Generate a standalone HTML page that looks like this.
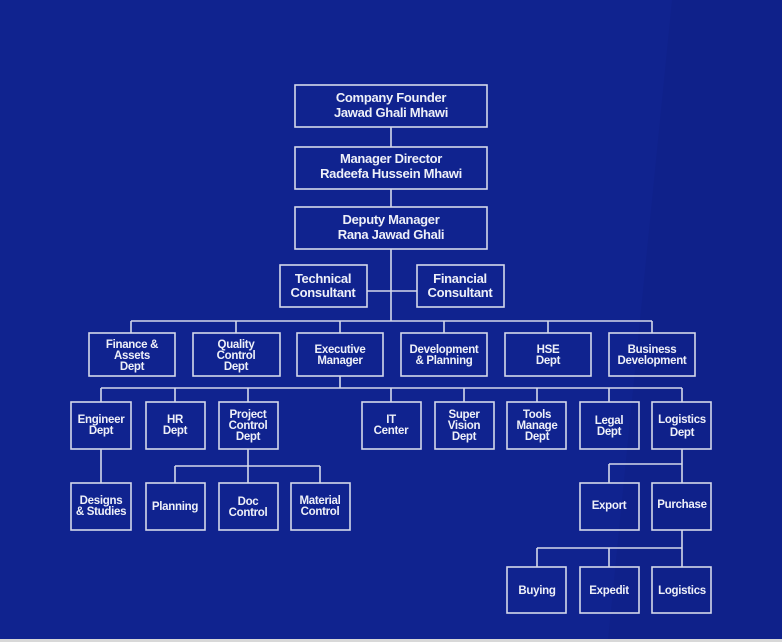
<!DOCTYPE html>
<html><head><style>
html,body{margin:0;padding:0;background:#10238f;}
svg{display:block}
text{font-family:"Liberation Sans",sans-serif;font-weight:bold;fill:#eef0f8;text-anchor:middle;letter-spacing:-0.3px}
</style></head><body>
<svg width="782" height="642" viewBox="0 0 782 642" xmlns="http://www.w3.org/2000/svg">
<rect width="782" height="642" fill="#10238f"/>
<polygon points="672,0 782,0 782,640 608,640" fill="#0f218a"/>
<rect x="0" y="639" width="782" height="3" fill="#d8d8d8"/>
<g stroke="#d4d8ea" stroke-width="1.6" fill="none">
<!-- connectors -->
<line x1="391" y1="127" x2="391" y2="147"/>
<line x1="391" y1="189" x2="391" y2="207"/>
<line x1="391" y1="249" x2="391" y2="321"/>
<line x1="367" y1="291" x2="417" y2="291"/>
<line x1="131" y1="321" x2="652" y2="321"/>
<line x1="131" y1="321" x2="131" y2="333"/>
<line x1="236" y1="321" x2="236" y2="333"/>
<line x1="340" y1="321" x2="340" y2="333"/>
<line x1="444" y1="321" x2="444" y2="333"/>
<line x1="548" y1="321" x2="548" y2="333"/>
<line x1="652" y1="321" x2="652" y2="333"/>
<line x1="340" y1="376" x2="340" y2="388"/>
<line x1="101" y1="388" x2="682" y2="388"/>
<line x1="101" y1="388" x2="101" y2="402"/>
<line x1="175" y1="388" x2="175" y2="402"/>
<line x1="248" y1="388" x2="248" y2="402"/>
<line x1="391" y1="388" x2="391" y2="402"/>
<line x1="464" y1="388" x2="464" y2="402"/>
<line x1="537" y1="388" x2="537" y2="402"/>
<line x1="609" y1="388" x2="609" y2="402"/>
<line x1="682" y1="388" x2="682" y2="402"/>
<line x1="101" y1="449" x2="101" y2="483"/>
<line x1="248" y1="449" x2="248" y2="483"/>
<line x1="175" y1="466" x2="320" y2="466"/>
<line x1="175" y1="466" x2="175" y2="483"/>
<line x1="320" y1="466" x2="320" y2="483"/>
<line x1="682" y1="449" x2="682" y2="483"/>
<line x1="609" y1="464" x2="682" y2="464"/>
<line x1="609" y1="464" x2="609" y2="483"/>
<line x1="682" y1="530" x2="682" y2="567"/>
<line x1="537" y1="548" x2="682" y2="548"/>
<line x1="537" y1="548" x2="537" y2="567"/>
<line x1="609" y1="548" x2="609" y2="567"/>
<!-- boxes -->
<rect x="295" y="85" width="192" height="42"/>
<rect x="295" y="147" width="192" height="42"/>
<rect x="295" y="207" width="192" height="42"/>
<rect x="280" y="265" width="87" height="42"/>
<rect x="417" y="265" width="87" height="42"/>
<rect x="89" y="333" width="86" height="43"/>
<rect x="193" y="333" width="87" height="43"/>
<rect x="297" y="333" width="86" height="43"/>
<rect x="401" y="333" width="86" height="43"/>
<rect x="505" y="333" width="86" height="43"/>
<rect x="609" y="333" width="86" height="43"/>
<rect x="71" y="402" width="60" height="47"/>
<rect x="146" y="402" width="59" height="47"/>
<rect x="219" y="402" width="59" height="47"/>
<rect x="362" y="402" width="59" height="47"/>
<rect x="435" y="402" width="59" height="47"/>
<rect x="507" y="402" width="59" height="47"/>
<rect x="580" y="402" width="59" height="47"/>
<rect x="652" y="402" width="59" height="47"/>
<rect x="71" y="483" width="60" height="47"/>
<rect x="146" y="483" width="59" height="47"/>
<rect x="219" y="483" width="59" height="47"/>
<rect x="291" y="483" width="59" height="47"/>
<rect x="580" y="483" width="59" height="47"/>
<rect x="652" y="483" width="59" height="47"/>
<rect x="507" y="567" width="59" height="46"/>
<rect x="580" y="567" width="59" height="46"/>
<rect x="652" y="567" width="59" height="46"/>
</g>
<g font-size="13">
<text x="391" y="102">Company Founder</text><text x="391" y="117">Jawad Ghali Mhawi</text>
<text x="391" y="163">Manager Director</text><text x="391" y="178">Radeefa Hussein Mhawi</text>
<text x="391" y="224">Deputy Manager</text><text x="391" y="239">Rana Jawad Ghali</text>
<text x="323" y="283">Technical</text><text x="323" y="297">Consultant</text>
<text x="460" y="283">Financial</text><text x="460" y="297">Consultant</text>
</g>
<g font-size="11.5">
<text x="132" y="348">Finance &amp;</text><text x="132" y="359">Assets</text><text x="132" y="370">Dept</text>
<text x="236" y="348">Quality</text><text x="236" y="359">Control</text><text x="236" y="370">Dept</text>
<text x="340" y="353">Executive</text><text x="340" y="364">Manager</text>
<text x="444" y="353">Development</text><text x="444" y="364">&amp; Planning</text>
<text x="548" y="353">HSE</text><text x="548" y="364">Dept</text>
<text x="652" y="353">Business</text><text x="652" y="364">Development</text>
<text x="101" y="423">Engineer</text><text x="101" y="434">Dept</text>
<text x="175" y="423">HR</text><text x="175" y="434">Dept</text>
<text x="248" y="418">Project</text><text x="248" y="429">Control</text><text x="248" y="440">Dept</text>
<text x="391" y="423">IT</text><text x="391" y="434">Center</text>
<text x="464" y="418">Super</text><text x="464" y="429">Vision</text><text x="464" y="440">Dept</text>
<text x="537" y="418">Tools</text><text x="537" y="429">Manage</text><text x="537" y="440">Dept</text>
<text x="609" y="424">Legal</text><text x="609" y="435">Dept</text>
<text x="682" y="423">Logistics</text><text x="682" y="436">Dept</text>
<text x="101" y="504">Designs</text><text x="101" y="515">&amp; Studies</text>
<text x="175" y="510">Planning</text>
<text x="248" y="505">Doc</text><text x="248" y="516">Control</text>
<text x="320" y="504">Material</text><text x="320" y="515">Control</text>
<text x="609" y="509">Export</text>
<text x="682" y="508">Purchase</text>
<text x="537" y="594">Buying</text>
<text x="609" y="594">Expedit</text>
<text x="682" y="594">Logistics</text>
</g>
</svg>
</body></html>
